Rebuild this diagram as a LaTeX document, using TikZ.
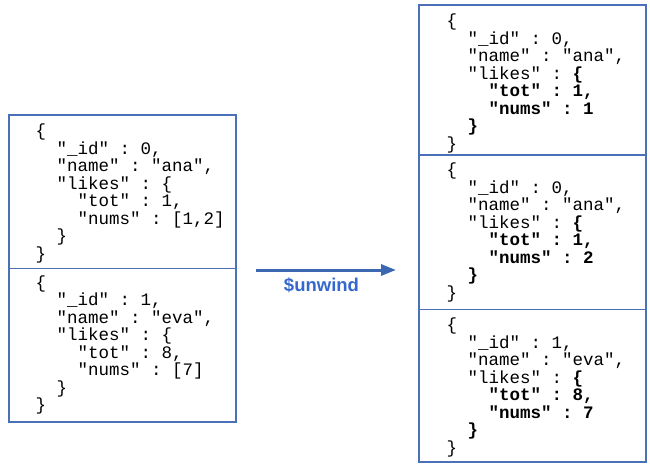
\documentclass[tikz,border=0pt]{standalone}
\usepackage{fontspec}
\setmainfont{Liberation Sans}
\setsansfont{Liberation Sans}
\setmonofont{Liberation Mono}
\usetikzlibrary{arrows.meta}
\definecolor{boxblue}{RGB}{74,112,184}
\definecolor{arrblue}{RGB}{59,104,176}
\definecolor{lblblue}{RGB}{52,104,204}
\begin{document}
\begin{tikzpicture}[x=1pt,y=-1pt,
  docbox/.style={draw=boxblue,line width=1.1pt,rectangle,inner sep=0pt},
  code/.style={anchor=base west,inner sep=0pt,align=left,
    font=\fontsize{17.5}{17.5}\selectfont\ttfamily},
  arr/.style={draw=arrblue,line width=3pt,-{Triangle[length=15pt,width=11pt]}},
  lbl/.style={anchor=base,inner sep=0pt,text=lblblue,
    font=\fontsize{18.5}{18.5}\selectfont\sffamily\bfseries}
]
\useasboundingbox (0,0) rectangle (650,464);
\fill[white] (0,0) rectangle (650,464);
% left boxes
\node[docbox,minimum width=227pt,minimum height=153.7pt] (L1) at (122.5,191.85) {};
\node[docbox,minimum width=227pt,minimum height=153.3pt] (L2) at (122.5,345.35) {};
% right boxes
\node[docbox,minimum width=227pt,minimum height=150pt] (R1) at (532.5,80) {};
\node[docbox,minimum width=227pt,minimum height=154.5pt] (R2) at (532.5,232.25) {};
\node[docbox,minimum width=227pt,minimum height=152.5pt] (R3) at (532.5,385.75) {};
% left texts (anchored at the baseline of the last line)
\node[code] (t1) at (35.5,259) {%
\mbox{\{}\\
\mbox{~~"\_id"~:~0,}\\
\mbox{~~"name"~:~"ana",}\\
\mbox{~~"likes"~:~\{}\\
\mbox{~~~~"tot"~:~1,}\\
\mbox{~~~~"nums"~:~[1,2]}\\
\mbox{~~\}}\\
\mbox{\}}};
\node[code] (t2) at (35.5,410.7) {%
\mbox{\{}\\
\mbox{~~"\_id"~:~1,}\\
\mbox{~~"name"~:~"eva",}\\
\mbox{~~"likes"~:~\{}\\
\mbox{~~~~"tot"~:~8,}\\
\mbox{~~~~"nums"~:~[7]}\\
\mbox{~~\}}\\
\mbox{\}}};
% right texts
\node[code] (u1) at (446.5,149.3) {%
\mbox{\{}\\
\mbox{~~"\_id"~:~0,}\\
\mbox{~~"name"~:~"ana",}\\
\mbox{~~"likes"~:~\textbf{\{}}\\
\mbox{~~~~\textbf{"tot"~:~1,}}\\
\mbox{~~~~\textbf{"nums"~:~1}}\\
\mbox{~~\textbf{\}}}\\
\mbox{\}}};
\node[code] (u2) at (446.5,298) {%
\mbox{\{}\\
\mbox{~~"\_id"~:~0,}\\
\mbox{~~"name"~:~"ana",}\\
\mbox{~~"likes"~:~\textbf{\{}}\\
\mbox{~~~~\textbf{"tot"~:~1,}}\\
\mbox{~~~~\textbf{"nums"~:~2}}\\
\mbox{~~\textbf{\}}}\\
\mbox{\}}};
\node[code] (u3) at (446.5,453.3) {%
\mbox{\{}\\
\mbox{~~"\_id"~:~1,}\\
\mbox{~~"name"~:~"eva",}\\
\mbox{~~"likes"~:~\textbf{\{}}\\
\mbox{~~~~\textbf{"tot"~:~8,}}\\
\mbox{~~~~\textbf{"nums"~:~7}}\\
\mbox{~~\textbf{\}}}\\
\mbox{\}}};
% arrow
\coordinate (a1) at (256,270);
\coordinate (a2) at (396,270);
\draw[arr] (a1) -- (a2);
\node[lbl] (op) at (321.5,291.7) {\$unwind};
\end{tikzpicture}
\end{document}
